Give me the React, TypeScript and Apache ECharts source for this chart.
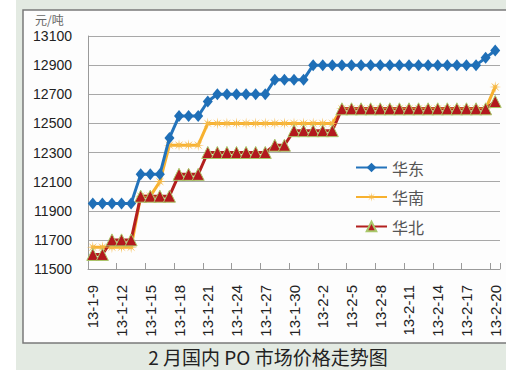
import React, { useEffect, useRef } from "react";
import * as echarts from "echarts";

const categories = [
  "13-1-9", "13-1-10", "13-1-11", "13-1-12", "13-1-13", "13-1-14", "13-1-15", "13-1-16",
  "13-1-17", "13-1-18", "13-1-19", "13-1-20", "13-1-21", "13-1-22", "13-1-23", "13-1-24",
  "13-1-25", "13-1-26", "13-1-27", "13-1-28", "13-1-29", "13-1-30", "13-1-31", "13-2-1",
  "13-2-2", "13-2-3", "13-2-4", "13-2-5", "13-2-6", "13-2-7", "13-2-8", "13-2-9",
  "13-2-10", "13-2-11", "13-2-12", "13-2-13", "13-2-14", "13-2-15", "13-2-16", "13-2-17",
  "13-2-18", "13-2-19", "13-2-20",
];

const huadong = [
  11950, 11950, 11950, 11950, 11950, 12150, 12150, 12150, 12400, 12550, 12550, 12550,
  12650, 12700, 12700, 12700, 12700, 12700, 12700, 12800, 12800, 12800, 12800, 12900,
  12900, 12900, 12900, 12900, 12900, 12900, 12900, 12900, 12900, 12900, 12900, 12900,
  12900, 12900, 12900, 12900, 12900, 12950, 13000,
];

const huanan = [
  11650, 11650, 11650, 11650, 11650, 12000, 12000, 12100, 12350, 12350, 12350, 12350,
  12500, 12500, 12500, 12500, 12500, 12500, 12500, 12500, 12500, 12500, 12500, 12500,
  12500, 12500, 12600, 12600, 12600, 12600, 12600, 12600, 12600, 12600, 12600, 12600,
  12600, 12600, 12600, 12600, 12600, 12600, 12750,
];

const huabei = [
  11600, 11600, 11700, 11700, 11700, 12000, 12000, 12000, 12000, 12150, 12150, 12150,
  12300, 12300, 12300, 12300, 12300, 12300, 12300, 12350, 12350, 12450, 12450, 12450,
  12450, 12450, 12600, 12600, 12600, 12600, 12600, 12600, 12600, 12600, 12600, 12600,
  12600, 12600, 12600, 12600, 12600, 12600, 12650,
];

const seriesNames = ["华东", "华南", "华北"];
const yMin = 11500;
const yMax = 13100;
const yInterval = 200;
const titleText = "2 月国内 PO 市场价格走势图";
const unitText = "元/吨";

const asterisk =
  "path://M6,0 L1.4,0.58 L4.24,4.24 L0.58,1.4 L0,6 L-0.58,1.4 L-4.24,4.24 L-1.4,0.58 L-6,0 L-1.4,-0.58 L-4.24,-4.24 L-0.58,-1.4 L0,-6 L0.58,-1.4 L4.24,-4.24 L1.4,-0.58 Z";

export default function App() {
  const ref = useRef<HTMLDivElement>(null);
  useEffect(() => {
    if (!ref.current) return;
    const chart = echarts.init(ref.current, null, { renderer: "svg" });
    const numFont = "'Liberation Sans', Arial, sans-serif";
    const cjkFont = "'Noto Sans CJK SC', sans-serif";
    chart.setOption({
      animation: false,
      backgroundColor: "#ffffff",
      graphic: [
        { type: "rect", z: -10, shape: { x: 16, y: 0, width: 490, height: 370 }, style: { fill: "#e3eae2" } },
        {
          type: "rect",
          z: -9,
          shape: { x: 23, y: 10, width: 495, height: 333 },
          style: { fill: "#fdfdfd", stroke: "#7a7a7a", lineWidth: 1.5 },
        },
        {
          type: "text",
          x: 35,
          y: 13,
          style: { text: unitText, fill: "#666", font: `12px ${cjkFont}` },
        },
        {
          type: "text",
          x: 268,
          y: 347,
          style: { text: titleText, fill: "#222", font: `19px ${cjkFont}`, textAlign: "center" },
        },
      ],
      grid: { left: 88, right: 6, top: 36, bottom: 101, containLabel: false },
      legend: {
        orient: "vertical",
        left: 350,
        top: 154,
        itemGap: 12.5,
        itemWidth: 31,
        itemHeight: 12,
        data: seriesNames,
        textStyle: { fontFamily: cjkFont, fontSize: 16, color: "#555", lineHeight: 17 },
      },
      xAxis: {
        type: "category",
        data: categories,
        boundaryGap: true,
        axisLine: { lineStyle: { color: "#9a9a9a", width: 1 } },
        axisTick: { show: true, inside: true, interval: 2, length: 6, lineStyle: { color: "#9a9a9a" } },
        axisLabel: {
          interval: 2,
          rotate: 90,
          margin: 16,
          color: "#222",
          fontFamily: numFont,
          fontSize: 15,
        },
      },
      yAxis: {
        type: "value",
        min: yMin,
        max: yMax,
        interval: yInterval,
        axisLine: { show: true, lineStyle: { color: "#9a9a9a", width: 1 } },
        axisTick: { show: false },
        axisLabel: {
          margin: 16,
          color: "#222",
          fontFamily: numFont,
          fontSize: 14,
          formatter: (v: number) => String(v),
        },
        splitLine: { lineStyle: { color: "#a8a8a8", width: 1 } },
      },
      series: [
        {
          name: seriesNames[0],
          type: "line",
          data: huadong,
          symbol: "diamond",
          symbolSize: [10, 12],
          showAllSymbol: true,
          lineStyle: { color: "#2373bb", width: 3 },
          itemStyle: { color: "#1f6fb7" },
          z: 3,
        },
        {
          name: seriesNames[1],
          type: "line",
          data: huanan,
          symbol: asterisk,
          symbolSize: 12,
          showAllSymbol: true,
          lineStyle: { color: "#f7b12f", width: 3 },
          itemStyle: { color: "#f6b844" },
          z: 2,
        },
        {
          name: seriesNames[2],
          type: "line",
          data: huabei,
          symbol: "triangle",
          symbolSize: 12,
          showAllSymbol: true,
          lineStyle: { color: "#b3201f", width: 3 },
          itemStyle: { color: "#b3191e", borderColor: "#a9c86a", borderWidth: 1 },
          z: 2,
        },
      ],
    });
    return () => chart.dispose();
  }, []);
  return (
    <div
      ref={ref}
      style={{ position: "fixed", left: 0, top: 0, width: 506, height: 370 }}
    />
  );
}
